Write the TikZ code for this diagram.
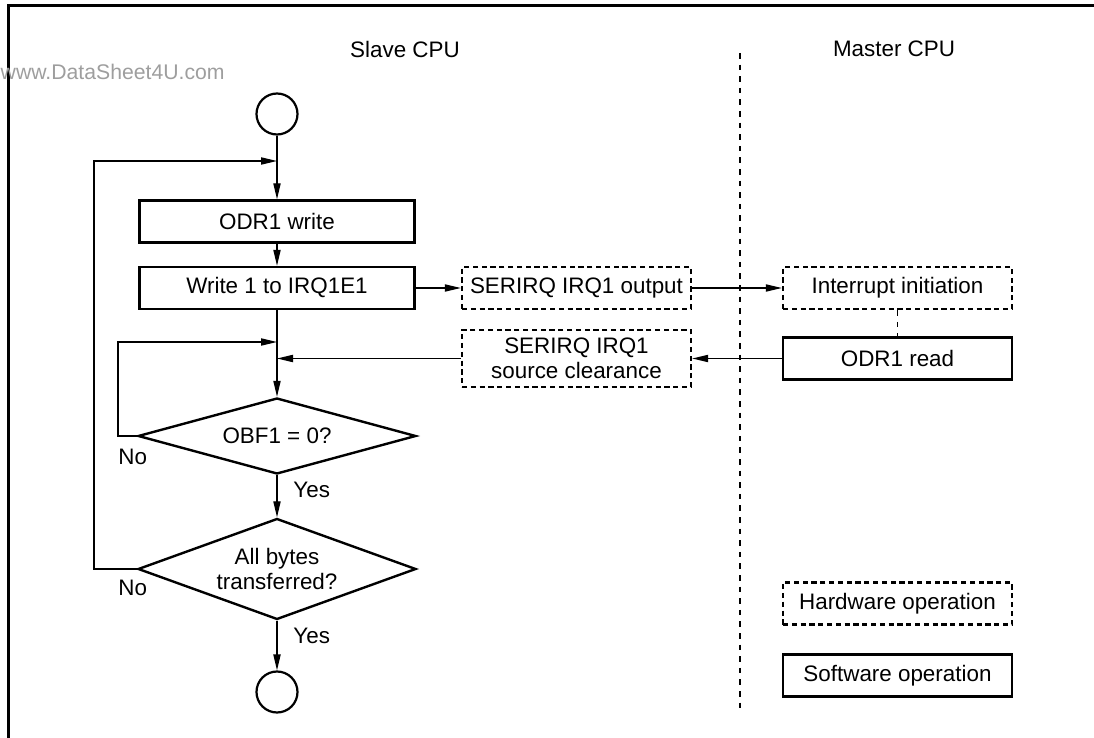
\documentclass[tikz,border=0pt]{standalone}
\usepackage{fontspec}
\setmainfont{Liberation Sans}
\usetikzlibrary{shapes.geometric,arrows.meta}
\begin{document}
\begin{tikzpicture}[x=0.5pt,y=-0.5pt,
  font=\fontsize{11.2}{12.5}\selectfont,
  swbox/.style={draw, line width=1.2pt, minimum width=137.5pt, minimum height=21pt, inner sep=0pt, align=center},
  hwbox/.style={draw, line width=1.2pt, dash pattern=on 2.6pt off 1.8pt, minimum width=114.5pt, minimum height=21pt, inner sep=0pt, align=center},
  decision/.style={diamond, draw, line width=1.2pt, aspect=2.75, inner sep=0pt, minimum width=139pt, minimum height=38pt, align=center},
  term/.style={circle, draw, line width=1.1pt, minimum size=20.5pt, inner sep=0pt},
  arr/.style={line width=0.65pt, -{Triangle[length=8pt,width=3.6pt]}},
  lbl/.style={inner sep=0pt},
  divline/.style={line width=0.6pt, dash pattern=on 2.8pt off 3pt}]
\useasboundingbox (0,0) rectangle (1094,738);
% frame
\draw[line width=1.5pt] (8,738) -- (8,6) -- (1094,6);
% watermark and headers
\node[lbl, anchor=east, text=black!38, font=\fontsize{10.6}{12}\selectfont] (wm) at (225,72) {www.DataSheet4U.com};
\node[lbl] (slave) at (405,49) {Slave CPU};
\node[lbl] (master) at (894,49) {Master CPU};
% divider
\coordinate (dtop) at (740,53);
\coordinate (dbot) at (740,708);
\draw[divline] (dtop) -- (dbot);
% nodes
\node[term] (start) at (277,114) {};
\node[swbox] (odrw) at (277,221.5) {ODR1 write};
\node[swbox] (wr) at (277,288) {Write 1 to IRQ1E1};
\node[hwbox] (sout) at (576.5,288) {SERIRQ IRQ1 output};
\node[hwbox] (intr) at (897.5,288) {Interrupt initiation};
\node[hwbox, minimum height=28.5pt] (clr) at (576.5,358.5) {SERIRQ IRQ1\\source clearance};
\node[swbox, minimum width=114.5pt] (odrr) at (897.5,358.5) {ODR1 read};
\node[decision] (obf) at (277,436) {OBF1 = 0?};
\node[decision, minimum height=50.5pt] (all) at (277,569) {All bytes\\transferred?};
\node[term] (end) at (277,692) {};
% legend
\node[hwbox] (lhw) at (897.5,603.5) {Hardware operation};
\node[swbox, minimum width=114.5pt] (lsw) at (897.5,675.5) {Software operation};
% labels
\node[lbl, anchor=west] (no1) at (118,457) {No};
\node[lbl, anchor=west] (yes1) at (293,490) {Yes};
\node[lbl, anchor=west] (no2) at (118,588) {No};
\node[lbl, anchor=west] (yes2) at (293,636) {Yes};
% junction points
\coordinate (j1) at (277,161);
\coordinate (j2) at (277,342);
\coordinate (loopA) at (94,569);
\coordinate (loopB) at (118,436);
% connectors
\draw[arr] (start) -- (odrw);
\draw[arr] (odrw) -- (wr);
\draw[arr] (wr) -- (obf);
\draw[arr] (obf) -- (all);
\draw[arr] (all) -- (end);
\draw[arr] (all.west) -- (loopA) |- (j1);
\draw[arr] (obf.west) -- (loopB) |- (j2);
\draw[arr] (wr.east) -- (sout.west);
\draw[arr] (sout.east) -- (intr.west);
\draw[arr] (odrr.west) -- (clr.east);
\draw[arr] (clr.west) -- (clr.west -| wr.south);
\draw[divline] (intr.south) -- (odrr.north);
\end{tikzpicture}
\end{document}
